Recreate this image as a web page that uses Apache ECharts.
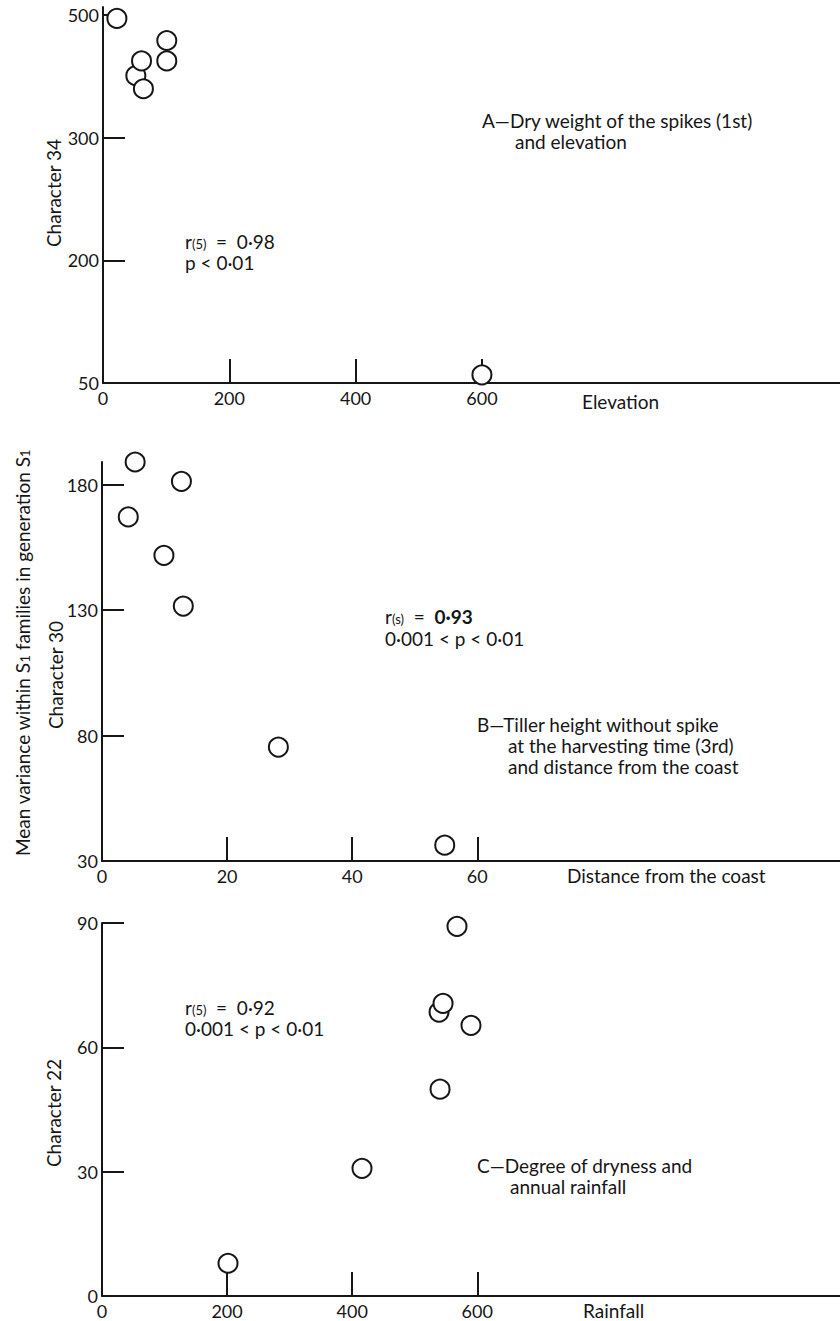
<!DOCTYPE html>
<html>
<head>
<meta charset="utf-8">
<script src="https://cdn.jsdelivr.net/npm/echarts@6/dist/echarts.min.js"></script>
<style>
html,body{margin:0;padding:0;background:#fff}
#c{width:840px;height:1321px}
</style>
</head>
<body>
<div id="c"></div>
<script>
// ---------- Panel A: Character 34 vs Elevation ----------
const elevation = [22, 101, 101, 52, 61, 64, 600];
const char34    = [496, 469, 444, 426, 444, 410, 60];
const xTicksA = [200, 400, 600];
const xLabelsA = [0, 200, 400, 600];
const yTicksA = [200, 350, 500];
const yLabelPosA = [50, 200, 350, 500];
const yLabelTextA = ['50', '200', '300', '500'];

// ---------- Panel B: Character 30 vs Distance from the coast ----------
const distance = [5.3, 12.7, 4.2, 9.9, 13.0, 28.2, 54.8];
const char30   = [189, 181.3, 167.1, 151.8, 131.6, 75.4, 36.3];
const xTicksB = [20, 40, 60];
const xLabelsB = [0, 20, 40, 60];
const yTicksB = [80, 130, 180];
const yLabelsB = [30, 80, 130, 180];

// ---------- Panel C: Character 22 vs Rainfall ----------
const rainfall = [201.5, 567.6, 538.9, 545.3, 590, 540.5, 415.7];
const char22   = [7.9, 89.2, 68.5, 70.6, 65.3, 49.9, 30.8];
const xTicksC = [200, 400, 600];
const xLabelsC = [0, 200, 400, 600];
const yTicksC = [30, 60, 90];
const yLabelsC = [0, 30, 60, 90];

const FONT = 'Lato, "Open Sans", "DejaVu Sans", sans-serif';
const INK = '#161616';
const chart = echarts.init(document.getElementById('c'), null, {renderer: 'svg'});

function xAxisDef(gridIndex, max, ticks, labels) {
  return {
    type: 'value', gridIndex: gridIndex, min: 0, max: max,
    axisLine: {show: true, onZero: false, lineStyle: {color: INK, width: 2}},
    axisTick: {show: true, inside: true, length: 24, customValues: ticks, lineStyle: {color: INK, width: 2}},
    axisLabel: {show: true, customValues: labels, margin: 6, color: INK, fontSize: 18, fontFamily: FONT},
    splitLine: {show: false}
  };
}
function yAxisDef(gridIndex, min, max, ticks, labels, formatter) {
  const a = {
    type: 'value', gridIndex: gridIndex, min: min, max: max,
    axisLine: {show: true, onZero: false, lineStyle: {color: INK, width: 2}},
    axisTick: {show: true, inside: true, length: 22, customValues: ticks, lineStyle: {color: INK, width: 2}},
    axisLabel: {show: true, customValues: labels, margin: 4, color: INK, fontSize: 18, fontFamily: FONT},
    splitLine: {show: false}
  };
  if (formatter) a.axisLabel.formatter = formatter;
  return a;
}
function pairs(xs, ys) { return xs.map((x, i) => [x, ys[i]]); }
function scatter(idx, xs, ys) {
  return {
    type: 'scatter', xAxisIndex: idx, yAxisIndex: idx, data: pairs(xs, ys),
    symbol: 'circle', symbolSize: 19, clip: false, silent: true,
    itemStyle: {color: '#ffffff', borderColor: INK, borderWidth: 2, opacity: 1},
    z: 5
  };
}
function txt(x, y, text, extra) {
  const st = Object.assign({
    text: text, fill: INK, fontSize: 19, fontFamily: FONT,
    align: 'left', verticalAlign: 'middle'
  }, extra || {});
  return {type: 'text', x: x, y: y, style: st, z: 10};
}
function vtxt(x, y, text, extra) {
  const e = txt(x, y, text, Object.assign({align: 'center'}, extra || {}));
  e.rotation = Math.PI / 2;
  return e;
}
const rRich = {
  r: {fontSize: 19, fontFamily: FONT, fill: INK, lineHeight: 19, verticalAlign: 'middle'},
  s: {fontSize: 13, fontFamily: FONT, fill: INK, lineHeight: 19, verticalAlign: 'bottom'},
  n: {fontSize: 19, fontFamily: FONT, fill: INK, lineHeight: 19, verticalAlign: 'middle'},
  b: {fontSize: 19, fontFamily: FONT, fill: INK, lineHeight: 19, verticalAlign: 'middle', fontWeight: 'bold'}
};
function capRich(lh, indent) {
  return {
    h: {fontSize: 19, fontFamily: FONT, fill: INK, lineHeight: lh},
    i: {fontSize: 19, fontFamily: FONT, fill: INK, lineHeight: lh, padding: [0, 0, 0, indent]}
  };
}

const option = {
  backgroundColor: '#ffffff',
  animation: false,
  grid: [
    {left: 103, top: 7, width: 737, height: 376, containLabel: false, outerBoundsMode: 'none'},
    {left: 102, top: 462, width: 738, height: 399, containLabel: false, outerBoundsMode: 'none'},
    {left: 102, top: 923, width: 738, height: 373, containLabel: false, outerBoundsMode: 'none'}
  ],
  xAxis: [
    xAxisDef(0, 1167, xTicksA, xLabelsA),
    xAxisDef(1, 118, xTicksB, xLabelsB),
    xAxisDef(2, 1180, xTicksC, xLabelsC)
  ],
  yAxis: [
    yAxisDef(0, 50, 510, yTicksA, yLabelPosA, v => yLabelTextA[yLabelPosA.indexOf(v)] || ''),
    yAxisDef(1, 30, 189, yTicksB, yLabelsB),
    yAxisDef(2, 0, 90, yTicksC, yLabelsC)
  ],
  series: [
    scatter(0, elevation, char34),
    scatter(1, distance, char30),
    scatter(2, rainfall, char22)
  ],
  graphic: [
    // Panel A texts
    txt(185, 241, '{r|r}{s|(5)}{n|  =  0·98}', {rich: rRich}),
    txt(185, 262, 'p < 0·01'),
    txt(482, 131, '{h|A—Dry weight of the spikes (1st)}\n{i|and elevation}', {rich: capRich(21, 33)}),
    txt(582, 401, 'Elevation'),
    vtxt(53, 193, 'Character 34'),
    // Panel B texts
    txt(385, 616, '{r|r}{s|(s)}{n|  =  }{b|0·93}', {rich: rRich}),
    txt(385, 638, '0·001 < p < 0·01'),
    txt(477, 745, '{h|B—Tiller height without spike}\n{i|at the harvesting time (3rd)}\n{i|and distance from the coast}', {rich: capRich(21, 31)}),
    txt(567, 875, 'Distance from the coast'),
    vtxt(55, 675, 'Character 30'),
    vtxt(22, 653, 'Mean variance within S{s|1} families in generation S{s|1}', {rich: rRich}),
    // Panel C texts
    txt(185, 1007, '{r|r}{s|(5)}{n|  =  0·92}', {rich: rRich}),
    txt(185, 1028, '0·001 < p < 0·01'),
    txt(477, 1175.5, '{h|C—Degree of dryness and}\n{i|annual rainfall}', {rich: capRich(21, 33)}),
    txt(583, 1310, 'Rainfall'),
    vtxt(53, 1113, 'Character 22')
  ]
};
chart.setOption(option);
</script>
</body>
</html>
